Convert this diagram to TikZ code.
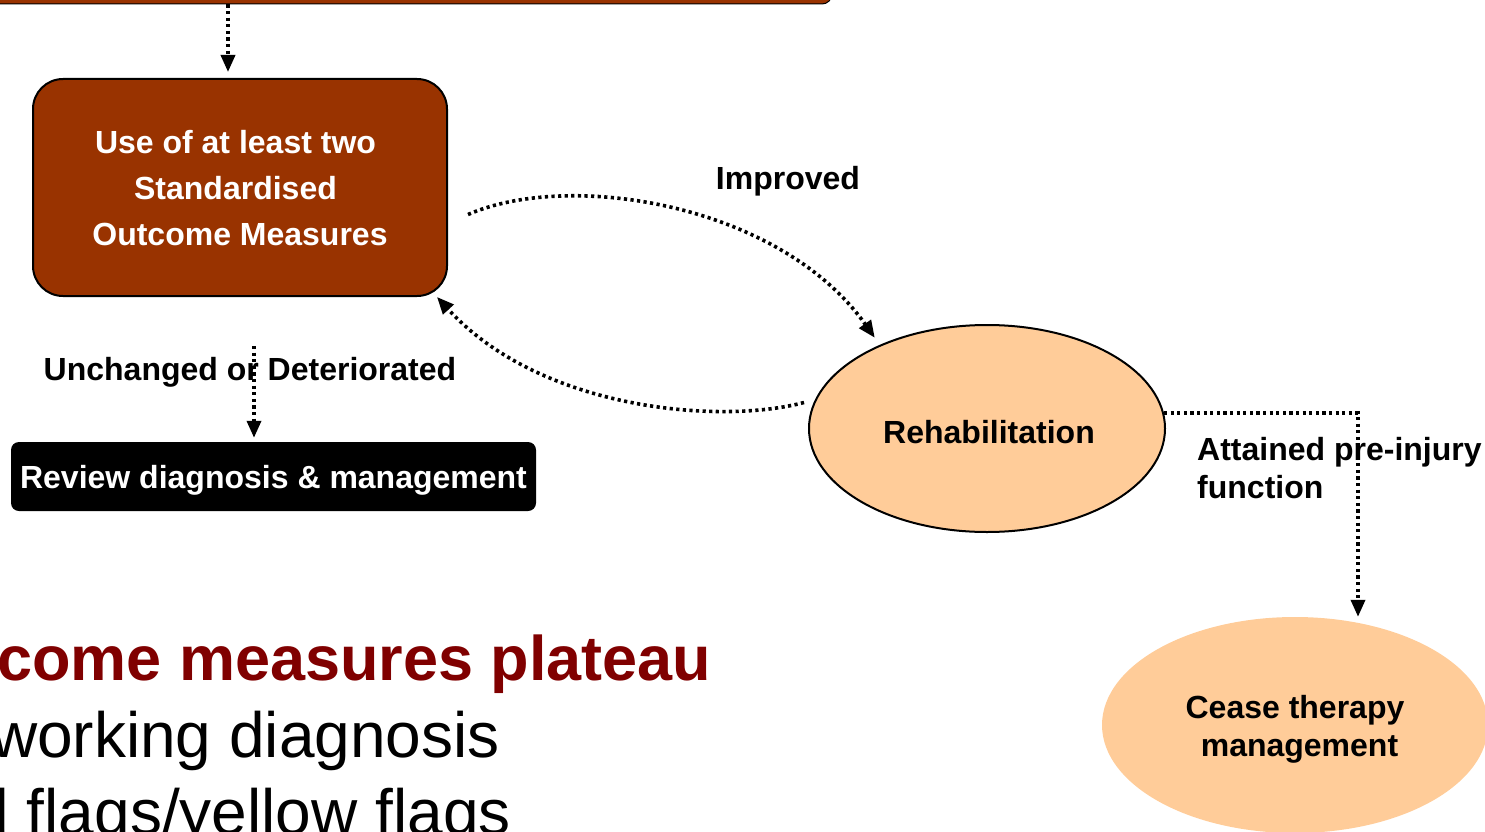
\documentclass[tikz,border=0pt]{standalone}
\usepackage{fontspec}
\setmainfont{Liberation Sans}
\usetikzlibrary{arrows.meta,shapes.geometric,calc}

\definecolor{rust}{HTML}{993300}
\definecolor{peach}{HTML}{FFCC99}
\definecolor{maroon}{HTML}{800000}

\tikzset{
  rustbox/.style={draw=black, line width=2pt, fill=rust, rounded corners=30pt,
    inner sep=0pt, text=white, font=\fontsize{32}{46}\selectfont\bfseries, align=center},
  blackbox/.style={fill=black, rounded corners=8pt, inner sep=0pt,
    text=white, font=\fontsize{32}{38}\selectfont\bfseries},
  peachoval/.style={ellipse, fill=peach, inner sep=0pt,
    font=\fontsize{32}{38}\selectfont\bfseries, align=center},
  lbl/.style={inner sep=0pt, font=\fontsize{32}{38}\selectfont\bfseries},
  conn/.style={line width=3.6pt, dash pattern=on 3.2pt off 3.4pt,
    -{Triangle[length=17pt,width=14pt]}},
  bigline/.style={inner sep=0pt, font=\fontsize{64}{77}\selectfont},
}

\begin{document}
\begin{tikzpicture}[x=1pt, y=-1pt]
  \useasboundingbox (0,0) rectangle (1485,832);
  \clip (0,0) rectangle (1485,832);

  % boxes and ovals
  \node[rustbox, rounded corners=10pt, line width=1pt, minimum width=872pt, minimum height=104pt] (top) at (396,-48) {};
  \node[rustbox, minimum width=414pt, minimum height=217pt] (use) at (240,187.5) {};
  \node[rustbox, draw=none, fill=none] (usetext) at (240,188.5)
    {Use of at least two\kern9pt\\Standardised\kern9pt\\Outcome Measures};
  \node[blackbox, minimum width=525pt, minimum height=69pt] (review) at (273.5,476.5) {};
  \node[blackbox, fill=none] (reviewtext) at (273.5,480) {Review diagnosis \& management};
  \node[peachoval, draw=black, line width=2pt, minimum width=356pt, minimum height=207pt] (rehab) at (987,428.5) {};
  \node[lbl] (rehabtext) at (989,432) {Rehabilitation};
  \node[peachoval, minimum width=386pt, minimum height=216pt] (cease) at (1295,725) {};
  \node[lbl, align=center] (ceasetext) at (1295,729) {Cease therapy\\\kern9pt management};

  % connector labels
  \node[lbl] (improved) at (788,181) {Improved};
  \node[lbl] (unchanged) at (250,372) {Unchanged or Deteriorated};
  \node[lbl, anchor=north west, align=left] (attained) at (1197,437)
    {Attained pre-injury\\function};

  % connectors
  \draw[conn] (top.south -| 228,0) -- ($(use.north)+(-12,-6)$);
  \draw[conn] ($(use.east)+(20,27)$)
    .. controls (570,170) and (780,204) .. ($(rehab.140)+(-10,-5)$);
  \draw[conn] ($(rehab.west)+(-4,-26)$)
    .. controls (720,425) and (540,410) .. ($(use.south east)+(-11,0)$);
  \draw[conn] ($(use.south)+(14,49)$) -- ($(review.north)+(-19.5,-4)$);
  \draw[conn] (rehab.5) -| ($(cease.north)+(63,0)$);

  % slide text below the chart
  \node[bigline, anchor=base west, text=maroon, font=\fontsize{63}{77}\selectfont\bfseries] (plateau) at (-3,680)
    {come measures plateau};
  \node[bigline, anchor=base east] (working) at (500,757) {working diagnosis};
  \node[bigline, anchor=base east] (flags) at (511,834) {d flags/yellow flags};
\end{tikzpicture}
\end{document}
